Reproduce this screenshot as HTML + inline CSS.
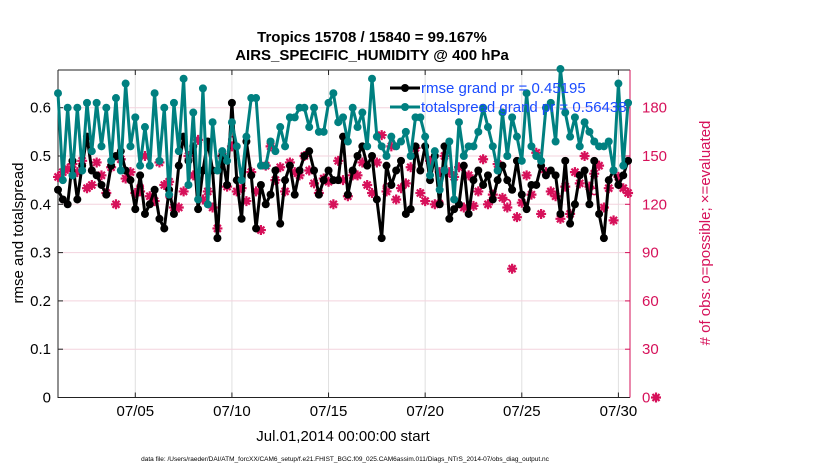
<!DOCTYPE html>
<html><head><meta charset="utf-8"><style>
html,body{margin:0;padding:0;background:#fff;}
svg{display:block;font-family:"Liberation Sans",sans-serif;}
</style></head><body>
<svg id="chart" width="830" height="470" viewBox="0 0 830 470">
<text x="372" y="42" text-anchor="middle" font-size="15" font-weight="bold">Tropics 15708 / 15840 = 99.167%</text>
<text x="372" y="60" text-anchor="middle" font-size="15" font-weight="bold">AIRS_SPECIFIC_HUMIDITY @ 400 hPa</text>
<g id="grid"></g><g id="axes"></g><g id="series"></g>
<text transform="translate(23,233) rotate(-90)" text-anchor="middle" font-size="15">rmse and totalspread</text>
<text transform="translate(710,233) rotate(-90)" text-anchor="middle" font-size="15" fill="#d6115a"># of obs: o=possible; ×=evaluated</text>
<text x="343" y="441" text-anchor="middle" font-size="15">Jul.01,2014 00:00:00 start</text>
<text x="345" y="461" text-anchor="middle" font-size="6.5">data file: /Users/raeder/DAI/ATM_forcXX/CAM6_setup/f.e21.FHIST_BGC.f09_025.CAM6assim.011/Diags_NTrS_2014-07/obs_diag_output.nc</text>
<g id="legend"></g>
</svg>
<script>
const xTicks=[4,9,14,19,24,29];
const xTickLabels=["07/05","07/10","07/15","07/20","07/25","07/30"];
const yTicks=[0,0.1,0.2,0.3,0.4,0.5,0.6];
const rTicks=[0,30,60,90,120,150,180];
const rmse=[0.43,0.41,0.40,0.49,0.41,0.48,0.54,0.47,0.46,0.44,0.42,0.48,0.50,0.51,0.47,0.45,0.39,0.46,0.38,0.40,0.43,0.37,0.35,0.43,0.38,0.48,0.54,0.49,0.52,0.39,0.47,0.53,0.47,0.33,0.50,0.44,0.61,0.45,0.37,0.53,0.46,0.35,0.44,0.40,0.42,0.47,0.36,0.45,0.48,0.42,0.47,0.50,0.51,0.47,0.42,0.45,0.47,0.45,0.45,0.54,0.42,0.47,0.50,0.52,0.48,0.50,0.41,0.33,0.48,0.44,0.47,0.49,0.38,0.39,0.52,0.47,0.52,0.45,0.50,0.40,0.52,0.37,0.39,0.40,0.48,0.38,0.45,0.47,0.44,0.46,0.41,0.45,0.48,0.45,0.43,0.49,0.42,0.39,0.44,0.44,0.48,0.46,0.47,0.46,0.38,0.49,0.36,0.40,0.46,0.47,0.40,0.49,0.38,0.33,0.45,0.47,0.44,0.46,0.49];
const spread=[0.63,0.45,0.60,0.46,0.60,0.47,0.61,0.51,0.61,0.52,0.60,0.49,0.62,0.47,0.65,0.52,0.58,0.48,0.56,0.48,0.63,0.49,0.60,0.42,0.61,0.51,0.66,0.44,0.59,0.41,0.64,0.40,0.57,0.47,0.51,0.49,0.57,0.52,0.45,0.54,0.62,0.62,0.48,0.48,0.53,0.51,0.56,0.52,0.58,0.58,0.60,0.60,0.56,0.60,0.55,0.55,0.61,0.63,0.57,0.58,0.53,0.60,0.56,0.59,0.52,0.66,0.54,0.52,0.50,0.54,0.52,0.53,0.55,0.50,0.58,0.58,0.54,0.46,0.51,0.43,0.47,0.53,0.41,0.57,0.50,0.52,0.52,0.55,0.60,0.56,0.52,0.47,0.59,0.50,0.58,0.54,0.49,0.63,0.52,0.50,0.49,0.60,0.61,0.53,0.68,0.59,0.54,0.58,0.52,0.57,0.55,0.53,0.52,0.52,0.53,0.47,0.65,0.48,0.61];
const nEval=[137,140,142,145,140,147,130,132,146,138,127,143,120,148,136,140,127,128,150,125,122,146,132,134,118,118,128,150,138,160,123,128,118,105,150,131,156,128,130,122,140,128,104,144,156,135,143,128,146,140,138,150,141,133,127,136,134,120,147,135,125,138,138,146,132,127,146,163,128,156,123,130,133,143,155,127,122,147,120,140,150,140,137,143,118,138,119,128,148,120,126,145,124,118,80,112,121,138,126,152,114,140,128,125,111,131,114,140,133,150,131,139,144,118,130,110,137,130,127];
const nPoss=[137,140,142,145,140,147,130,132,146,138,127,143,120,148,136,140,127,128,150,125,122,146,132,134,118,118,128,150,138,160,123,128,118,105,150,131,156,128,130,122,140,128,104,144,156,135,143,128,146,140,138,150,141,133,127,136,134,120,147,135,125,138,138,146,132,127,146,163,128,156,123,130,133,143,155,127,122,147,120,140,150,140,137,143,118,138,119,128,148,120,126,145,124,118,80,112,121,138,126,152,114,140,128,125,111,131,114,140,133,150,131,139,144,118,130,110,137,130,127];
nPoss[17]=131;nPoss[23]=125;nPoss[36]=160;nPoss[44]=158;nPoss[68]=131;nPoss[79]=121;nPoss[93]=121;nPoss[111]=128;
const X0=58,X1=630,Y0=397.5,YT=70,DAYS=29.6,YMAX=(Y0-YT)/483,RMAX=YMAX*300;
const sx=d=>X0+d/DAYS*(X1-X0), sy=v=>Y0-v/YMAX*(Y0-YT), sr=v=>Y0-v/RMAX*(Y0-YT);
const NS="http://www.w3.org/2000/svg";
function mk(t,a,p){const e=document.createElementNS(NS,t);for(const k in a)e.setAttribute(k,a[k]);p.appendChild(e);return e;}
const grid=document.getElementById('grid'),axes=document.getElementById('axes'),ser=document.getElementById('series'),leg=document.getElementById('legend');
mk('rect',{x:X0,y:YT,width:X1-X0,height:Y0-YT,fill:'#fff'},grid);
xTicks.forEach((d,i)=>{const l=mk('line',{x1:sx(d),x2:sx(d),y1:YT,y2:Y0,stroke:'#e0e0e0'},grid);


const t=mk('text',{x:sx(d),y:416,'text-anchor':'middle','font-size':15},axes);t.textContent=xTickLabels[i];


mk('line',{x1:sx(d),x2:sx(d),y1:Y0,y2:Y0-5,stroke:'#222'},axes);mk('line',{x1:sx(d),x2:sx(d),y1:YT,y2:YT+5,stroke:'#222'},axes);});
yTicks.forEach(v=>{const l=mk('line',{x1:X0,x2:X1,y1:sy(v),y2:sy(v),stroke:'#f3d3de'},grid);


const t=mk('text',{x:X0-7,y:sy(v)+5,'text-anchor':'end','font-size':15},axes);t.textContent=v===0?'0':v.toFixed(1);


mk('line',{x1:X0,x2:X0+5,y1:sy(v),y2:sy(v),stroke:'#222'},axes);});
rTicks.forEach(v=>{const t=mk('text',{x:X1+12,y:sr(v)+5,'font-size':15,fill:'#d6115a'},axes);t.textContent=v;


mk('line',{x1:X1,x2:X1-5,y1:sr(v),y2:sr(v),stroke:'#d6115a'},axes);});
mk('path',{d:`M${X0},${YT}H${X1}M${X0},${YT}V${Y0}H${X1}`,fill:'none',stroke:'#222','stroke-width':1},axes);
mk('line',{x1:X1,x2:X1,y1:YT,y2:Y0,stroke:'#d6115a'},axes);
function star(x,y,p){const g=mk('g',{stroke:'#d6115a','stroke-width':2.2},p);


mk('path',{d:`M${x-5},${y}H${x+5}M${x},${y-5}V${y+5}M${x-3.5},${y-3.5}L${x+3.5},${y+3.5}M${x-3.5},${y+3.5}L${x+3.5},${y-3.5}`},g);
mk('circle',{cx:x,cy:y,r:2.5,fill:'#d6115a',stroke:'none'},g);}
nPoss.forEach((v,i)=>{if(v!==nEval[i]){const c=mk('circle',{cx:sx(i*0.25),cy:sr(v),r:3.2,fill:'none',stroke:'#d6115a','stroke-width':1.6},ser);

}});
nEval.forEach((v,i)=>star(sx(i*0.25),sr(v),ser));
star(656,Y0,ser);
function line(arr,col,name){const g=mk('g',{},ser);


mk('polyline',{points:arr.map((v,i)=>sx(i*0.25)+','+sy(v)).join(' '),fill:'none',stroke:col,'stroke-width':3,'stroke-linejoin':'round'},g);
arr.forEach((v,i)=>mk('circle',{cx:sx(i*0.25),cy:sy(v),r:4,fill:col},g));}
line(rmse,'#000','rmse-series');
line(spread,'#008080','totalspread-series');
[['rmse grand pr = 0.45195','#000',93],['totalspread grand pr = 0.56438','#008080',112]].forEach(r=>{
const g=mk('g',{},leg);


mk('line',{x1:390,x2:420,y1:r[2]-5,y2:r[2]-5,stroke:r[1],'stroke-width':3},g);
mk('circle',{cx:405,cy:r[2]-5,r:4,fill:r[1]},g);
const t=mk('text',{x:421,y:r[2],'font-size':15,fill:'#1a4bff'},g);t.textContent=r[0];});
</script>
</body></html>
